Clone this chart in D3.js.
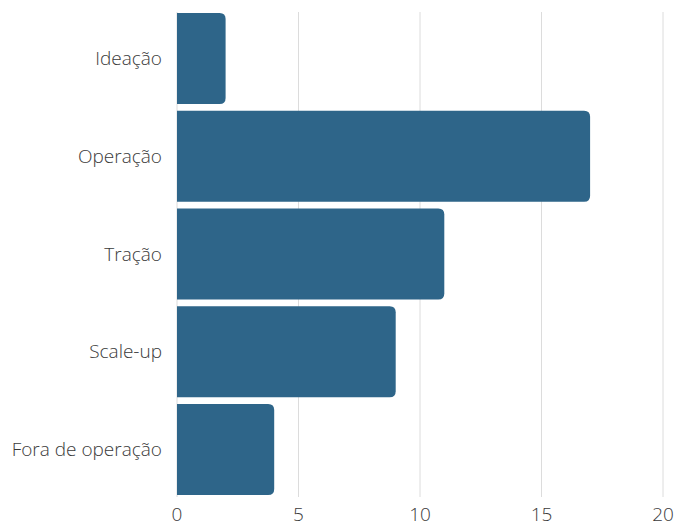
<!DOCTYPE html>
<html><head><meta charset="utf-8">
<script src="https://cdn.jsdelivr.net/npm/d3@7"></script>
<style>body{margin:0;background:#fff;}text{font-family:"Open Sans",sans-serif;font-weight:300;}</style>
</head><body><svg id="c" width="675" height="527"></svg>
<script>
const categories = ["Ideação","Operação","Tração","Scale-up","Fora de operação"];
const values = [2,17,11,9,4];
const ticks = [0,5,10,15,20];

const svg = d3.select("#c");
const x = d3.scaleLinear().domain([0,20]).range([177,663]);
const y = d3.scaleBand().domain(categories).range([6.25,501.75]).paddingInner(0.069).paddingOuter(0.069);

svg.append("g").selectAll("line").data(ticks).join("line")
  .attr("x1",d=>x(d)).attr("x2",d=>x(d)).attr("y1",12).attr("y2",497)
  .attr("stroke","#dcdcdc").attr("stroke-width",1);

const r = 6;
svg.append("g").selectAll("path").data(categories).join("path")
  .attr("fill","#2e6589")
  .attr("d",(c,i)=>{
    const x0=x(0), x1=x(values[i]), y0=y(c), y1=y0+y.bandwidth();
    return `M${x0},${y0}H${x1-r}Q${x1},${y0} ${x1},${y0+r}V${y1-r}Q${x1},${y1} ${x1-r},${y1}H${x0}Z`;
  });

svg.append("g").selectAll("text").data(categories).join("text")
  .attr("x",162).attr("y",c=>y(c)+y.bandwidth()/2).attr("dy","0.35em")
  .attr("text-anchor","end").attr("font-size",19).attr("fill","#3a3a3a").text(c=>c);

svg.append("g").selectAll("text").data(ticks).join("text")
  .attr("x",d=>x(d)).attr("y",521)
  .attr("text-anchor","middle").attr("font-size",19).attr("fill","#3a3a3a").text(d=>d);
</script></body></html>
